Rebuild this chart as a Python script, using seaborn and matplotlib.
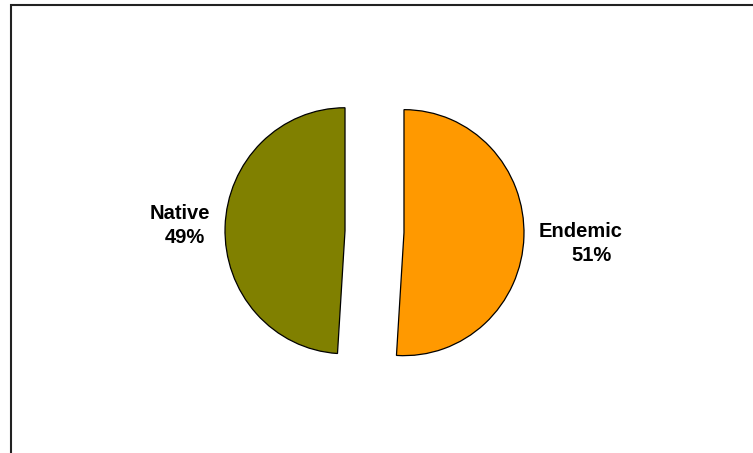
import matplotlib
matplotlib.use("Agg")
import matplotlib.pyplot as plt
import seaborn as sns
from matplotlib.patches import Rectangle

sns.set_theme(style="white")
plt.rcParams['font.family'] = ['Liberation Sans', 'DejaVu Sans']

categories = ["Endemic", "Native"]
values = [51, 49]
colors = ["#FF9900", "#808000"]
pct_labels = ["51%", "49%"]

W, H = 753, 453
YS = 123.0 / 120.0  # slight vertical stretch of the pie, as in the original


def yd(ypx):
    """pixel row (from top) -> data y"""
    return (H - ypx) / YS


fig = plt.figure(figsize=(W / 100, H / 100), dpi=100)
fig.patch.set_facecolor("white")
ax = fig.add_axes([0, 0, 1, 1])

cx, cy = 374.5, yd(231.7)
R = 120
ax.pie(values, colors=colors, startangle=90, counterclock=False,
       explode=[29.5, 29.5], center=(cx, cy), radius=R,
       wedgeprops=dict(edgecolor="black", linewidth=0.9))
ax.set_aspect("auto")
ax.set_xlim(0, W)
ax.set_ylim(0, H / YS)
ax.axis("off")

fs = 14.5
kw = dict(ha="center", va="baseline", fontsize=fs, fontweight="bold", color="black")
ax.text(580.5, yd(237), categories[0], **kw)
ax.text(592, yd(261), pct_labels[0], **kw)
ax.text(179.5, yd(219), categories[1], **kw)
ax.text(185, yd(243), pct_labels[1], **kw)

# outer frame
fig.patches.append(Rectangle((11 / W, -0.1), 2, (H - 5) / H + 0.1, transform=fig.transFigure,
                             fill=False, edgecolor="#222222", linewidth=1.5))

fig.savefig("out.png", dpi=100, facecolor="white")
